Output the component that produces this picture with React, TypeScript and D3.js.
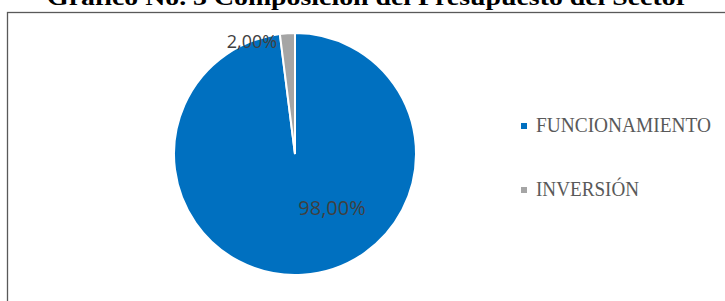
import React from "react";
import * as d3 from "d3";

const categories = ["FUNCIONAMIENTO", "INVERSIÓN"];
const values = [98, 2];
const labels = ["98,00%", "2,00%"];
const colors = ["#0070C0", "#A5A5A5"];
const title = "Gráfico No. 3 Composición del Presupuesto del Sector";

export default function App() {
  const W = 725, H = 301;
  const cx = 295, cy = 154, r = 121;
  const pie = d3.pie<number>().sort(null).value((d) => d)(values);
  const arc = d3.arc<d3.PieArcDatum<number>>().innerRadius(0).outerRadius(r);
  const labelPos = [
    [37, 53],
    [-43, -113],
  ];
  const legendY = [125, 189];
  return (
    <svg
      width={W}
      height={H}
      style={{ position: "absolute", left: 0, top: 0, background: "#fff" }}
    >
      <rect x={7.5} y={12.5} width={800} height={400} fill="#fff" stroke="#595959" strokeWidth={1.3} />
      <text
        x={367.5}
        y={5}
        textAnchor="middle"
        fontFamily="'Liberation Serif', serif"
        fontWeight="bold"
        fontSize={24}
        textLength={641}
        lengthAdjust="spacingAndGlyphs"
        fill="#000"
      >
        {title}
      </text>
      <g transform={`translate(${cx},${cy})`}>
        {pie.map((p, i) => (
          <path key={i} d={arc(p) || ""} fill={colors[i]} stroke="#fff" strokeWidth={2} />
        ))}
        {pie.map((p, i) => (
          <text
            key={"l" + i}
            x={labelPos[i][0]}
            y={labelPos[i][1]}
            textAnchor="middle"
            dominantBaseline="central"
            fontFamily="'Open Sans', sans-serif"
            fontSize={i === 0 ? 20 : 18}
            fill="#404040"
          >
            {labels[i]}
          </text>
        ))}
      </g>
      {categories.map((c, i) => (
        <g key={c}>
          <rect x={521} y={legendY[i] - 2} width={6} height={6} fill={colors[i]} />
          <text
            x={536}
            y={legendY[i] + 7}
            fontFamily="'Liberation Serif', serif"
            fontSize={21}
            fill="#595959"
            textLength={i === 0 ? 175 : 103}
            lengthAdjust="spacingAndGlyphs"
          >
            {c}
          </text>
        </g>
      ))}
    </svg>
  );
}
